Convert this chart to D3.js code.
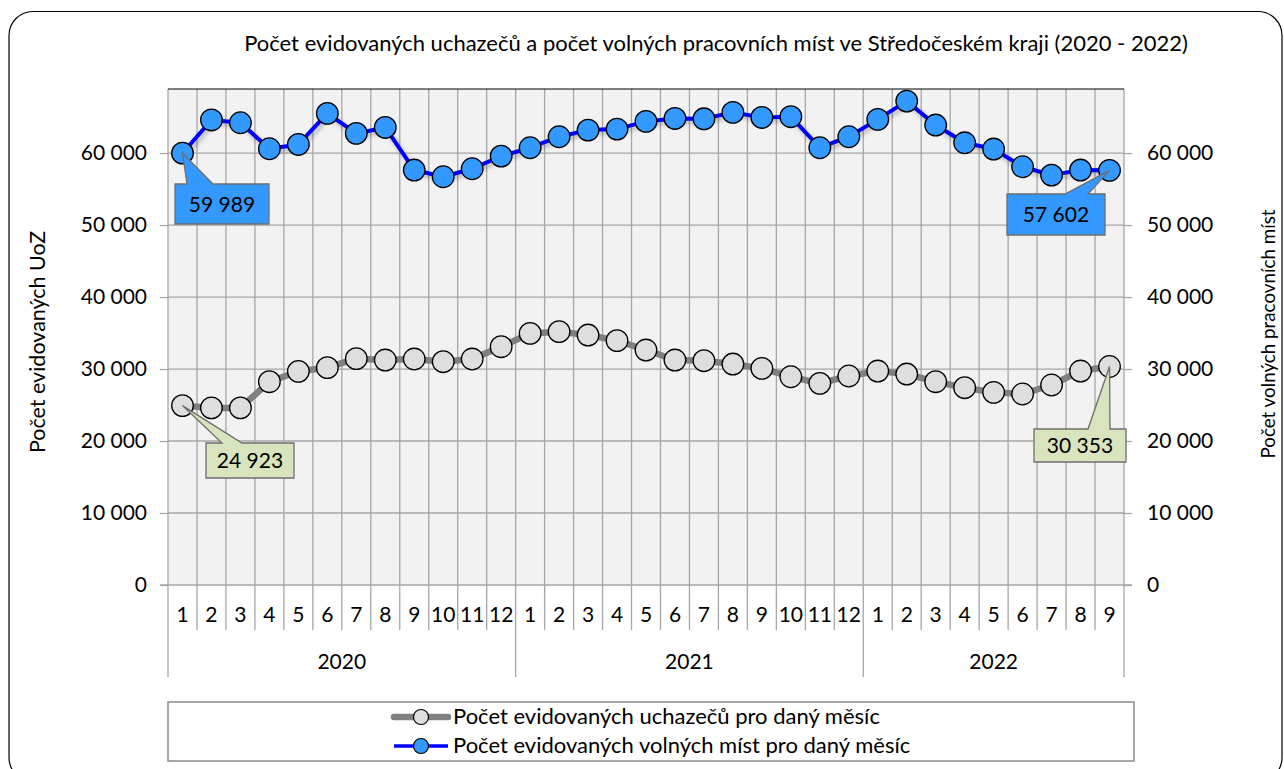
<!DOCTYPE html>
<html>
<head>
<meta charset="utf-8">
<script src="https://cdn.jsdelivr.net/npm/d3@7"></script>
<style>
  html, body { margin: 0; padding: 0; background: #fff; }
  svg { display: block; font-family: Lato, "Liberation Sans", sans-serif; }
</style>
</head>
<body>
<svg id="chart" width="1284" height="769"></svg>
<script>
// ---- data ----
const monthLabels = ["1","2","3","4","5","6","7","8","9","10","11","12",
                     "1","2","3","4","5","6","7","8","9","10","11","12",
                     "1","2","3","4","5","6","7","8","9"];
const years = ["2020", "2021", "2022"];
const yearMonthCounts = [12, 12, 9];
const uchazeci = [24923, 24600, 24600, 28240, 29680, 30190, 31440, 31250, 31390, 31020, 31390, 33100,
                  34950, 35190, 34720, 33940, 32640, 31250, 31160, 30690, 30090, 28930, 28010, 29030,
                  29720, 29300, 28240, 27410, 26760, 26530, 27780, 29720, 30353];
const volnaMista = [59989, 64600, 64210, 60600, 61200, 65510, 62730, 63560, 57640, 56710, 57820, 59580,
                    60740, 62270, 63190, 63330, 64400, 64810, 64760, 65650, 64950, 65050, 60740, 62270,
                    64680, 67220, 63890, 61430, 60560, 58100, 56940, 57640, 57602];
const yTicks = [0, 10000, 20000, 30000, 40000, 50000, 60000];
const titleText = "Počet evidovaných uchazečů a počet volných pracovních míst ve Středočeském kraji (2020 - 2022)";
const leftTitle = "Počet evidovaných UoZ";
const rightTitle = "Počet volných pracovních míst";
const legendLabels = ["Počet evidovaných uchazečů pro daný měsíc", "Počet evidovaných volných míst pro daný měsíc"];

// ---- layout ----
const svg = d3.select("#chart");
const L = 168, R = 1124, T = 89, B = 585;
const FS = 21;
const idx = d3.range(monthLabels.length);
const x = d3.scaleBand().domain(idx).range([L, R]).padding(0);
const y = d3.scaleLinear().domain([0, 68900]).range([B, T]);
const fmt = v => d3.format(",")(v).replace(/,/g, " ");
const cx = i => x(i) + x.bandwidth() / 2;

const defs = svg.append("defs");
const f = defs.append("filter").attr("id", "shadow").attr("x", "-5%").attr("y", "-20%").attr("width", "110%").attr("height", "140%");
f.append("feDropShadow").attr("dx", 2).attr("dy", 3).attr("stdDeviation", 2).attr("flood-color", "#000").attr("flood-opacity", 0.25);

// outer border
svg.append("rect").attr("x", 9).attr("y", 11.5).attr("width", 1273).attr("height", 770)
  .attr("rx", 24).attr("ry", 24).attr("fill", "#fff").attr("stroke", "#000").attr("stroke-width", 1.2);

// title
svg.append("text").attr("x", 716).attr("y", 51).attr("text-anchor", "middle")
  .attr("font-size", 22).attr("fill", "#000").text(titleText);

// plot background
svg.append("rect").attr("x", L).attr("y", T).attr("width", R - L).attr("height", B - T).attr("fill", "#f2f2f2");

// vertical grid
svg.append("g").selectAll("line").data(idx.slice(1)).join("line")
  .attr("x1", i => x(i)).attr("x2", i => x(i)).attr("y1", T).attr("y2", B)
  .attr("stroke", "#a6a6a6").attr("stroke-width", 1.3);

// horizontal grid + left axis
const gl = svg.append("g").attr("transform", `translate(${L},0)`)
  .call(d3.axisLeft(y).tickValues(yTicks).tickFormat(fmt).tickSizeInner(8).tickSizeOuter(0).tickPadding(13));
gl.select(".domain").remove();
gl.selectAll(".tick line").attr("stroke", "#a6a6a6").attr("stroke-width", 1.3);
gl.selectAll(".tick text").attr("font-size", FS).attr("fill", "#000").attr("font-family", "Lato");
svg.append("g").selectAll("line").data(yTicks.slice(1)).join("line")
  .attr("x1", L).attr("x2", R).attr("y1", d => y(d)).attr("y2", d => y(d))
  .attr("stroke", "#a6a6a6").attr("stroke-width", 1.3);

// right axis
const gr = svg.append("g").attr("transform", `translate(${R},0)`)
  .call(d3.axisRight(y).tickValues(yTicks).tickFormat(fmt).tickSizeInner(8).tickSizeOuter(0).tickPadding(15));
gr.select(".domain").remove();
gr.selectAll(".tick line").attr("stroke", "#a6a6a6").attr("stroke-width", 1.3);
gr.selectAll(".tick text").attr("font-size", FS).attr("fill", "#000").attr("font-family", "Lato");

// plot borders
svg.append("line").attr("x1", L).attr("x2", L).attr("y1", T).attr("y2", B).attr("stroke", "#a6a6a6").attr("stroke-width", 1.3);
svg.append("line").attr("x1", R).attr("x2", R).attr("y1", T).attr("y2", B).attr("stroke", "#a6a6a6").attr("stroke-width", 1.3);
svg.append("line").attr("x1", L).attr("x2", R).attr("y1", T).attr("y2", T).attr("stroke", "#000").attr("stroke-width", 1.2);
svg.append("line").attr("x1", L - 8).attr("x2", R + 8).attr("y1", B).attr("y2", B).attr("stroke", "#a6a6a6").attr("stroke-width", 1.3);

// category axis: months
const gx = svg.append("g").attr("transform", `translate(0,${B})`)
  .call(d3.axisBottom(x).tickFormat(i => monthLabels[i]).tickSize(0).tickPadding(22));
gx.select(".domain").remove();
gx.selectAll(".tick text").attr("font-size", FS).attr("fill", "#000").attr("font-family", "Lato");
// month separators
const yearStarts = d3.cumsum([0, ...yearMonthCounts]).slice(0, years.length + 1);
svg.append("g").selectAll("line").data(idx.slice(1).filter(i => !yearStarts.includes(i))).join("line")
  .attr("x1", i => x(i)).attr("x2", i => x(i)).attr("y1", B).attr("y2", 630)
  .attr("stroke", "#a6a6a6").attr("stroke-width", 1.3);
// year separators
svg.append("g").selectAll("line").data(Array.from(yearStarts)).join("line")
  .attr("x1", i => i < idx.length ? x(i) : R).attr("x2", i => i < idx.length ? x(i) : R)
  .attr("y1", B).attr("y2", 677)
  .attr("stroke", "#a6a6a6").attr("stroke-width", 1.3);
// year labels
svg.append("g").selectAll("text").data(years).join("text")
  .attr("x", (d, k) => {
    const a = x(yearStarts[k]);
    const b = yearStarts[k + 1] < idx.length ? x(yearStarts[k + 1]) : R;
    return (a + b) / 2;
  })
  .attr("y", 669).attr("text-anchor", "middle").attr("font-size", FS).attr("fill", "#000").text(d => d);

// axis titles
svg.append("text").attr("transform", "translate(45,342) rotate(-90)").attr("text-anchor", "middle")
  .attr("font-size", 21.5).attr("fill", "#000").text(leftTitle);
svg.append("text").attr("transform", "translate(1275,334) rotate(-90)").attr("text-anchor", "middle")
  .attr("font-size", 18.8).attr("fill", "#000").text(rightTitle);

// series
const line = d3.line().x((d, i) => cx(i)).y(d => y(d));
svg.append("path").datum(uchazeci).attr("d", line).attr("fill", "none")
  .attr("stroke", "#808080").attr("stroke-width", 6.5).attr("stroke-linejoin", "round");
svg.append("g").selectAll("circle").data(uchazeci).join("circle")
  .attr("cx", (d, i) => cx(i)).attr("cy", d => y(d)).attr("r", 10.8)
  .attr("fill", "#dedede").attr("stroke", "#000").attr("stroke-width", 1.3);

svg.append("path").datum(volnaMista).attr("d", line).attr("fill", "none")
  .attr("stroke", "#0000ff").attr("stroke-width", 4).attr("stroke-linejoin", "round").attr("filter", "url(#shadow)");
svg.append("g").selectAll("circle").data(volnaMista).join("circle")
  .attr("cx", (d, i) => cx(i)).attr("cy", d => y(d)).attr("r", 10.8)
  .attr("fill", "#3399ff").attr("stroke", "#000").attr("stroke-width", 1.3);

// callouts
function callout(i, val, bx, by, bw, bh, p1, p2, fill) {
  const tx = cx(i), ty = y(val);
  const g = svg.append("g");
  g.append("path")
    .attr("d", `M${bx},${by} L${p1},${by} L${tx},${ty} L${p2},${by} L${bx + bw},${by} L${bx + bw},${by + bh} L${bx},${by + bh} Z`)
    .attr("fill", fill).attr("stroke", "#6e6e6e").attr("stroke-width", 1.3).attr("stroke-linejoin", "miter");
  g.append("text").attr("x", bx + bw / 2).attr("y", by + bh / 2 + 7.5).attr("text-anchor", "middle")
    .attr("font-size", 21).attr("fill", "#000").text(fmt(val));
}
const last = idx.length - 1;
callout(0, volnaMista[0], 175, 184, 94, 40, 187, 213, "#3399ff");
callout(last, volnaMista[last], 1007, 194, 98, 41, 1065, 1088, "#3399ff");
callout(0, uchazeci[0], 206, 443, 88, 35, 222, 242, "#d7e4bd");
callout(last, uchazeci[last], 1034, 429, 92, 33, 1088, 1110, "#d7e4bd");

// legend
svg.append("rect").attr("x", 168).attr("y", 702).attr("width", 966).attr("height", 59)
  .attr("fill", "#fff").attr("stroke", "#8c8c8c").attr("stroke-width", 1.5);
const lg = svg.append("g");
const legY = [717, 746];
lg.append("line").attr("x1", 394).attr("x2", 448).attr("y1", legY[0]).attr("y2", legY[0])
  .attr("stroke", "#808080").attr("stroke-width", 6.5).attr("stroke-linecap", "round");
lg.append("circle").attr("cx", 421).attr("cy", legY[0]).attr("r", 7.5).attr("fill", "#dedede").attr("stroke", "#000").attr("stroke-width", 1.2);
lg.append("line").attr("x1", 394).attr("x2", 448).attr("y1", legY[1]).attr("y2", legY[1])
  .attr("stroke", "#0000ff").attr("stroke-width", 3.5);
lg.append("circle").attr("cx", 421).attr("cy", legY[1]).attr("r", 7.5).attr("fill", "#3399ff").attr("stroke", "#000").attr("stroke-width", 1.2);
lg.selectAll("text").data(legendLabels).join("text")
  .attr("x", 453).attr("y", (d, k) => legY[k] + 7).attr("font-size", 22).attr("fill", "#000").text(d => d);
</script>
</body>
</html>
